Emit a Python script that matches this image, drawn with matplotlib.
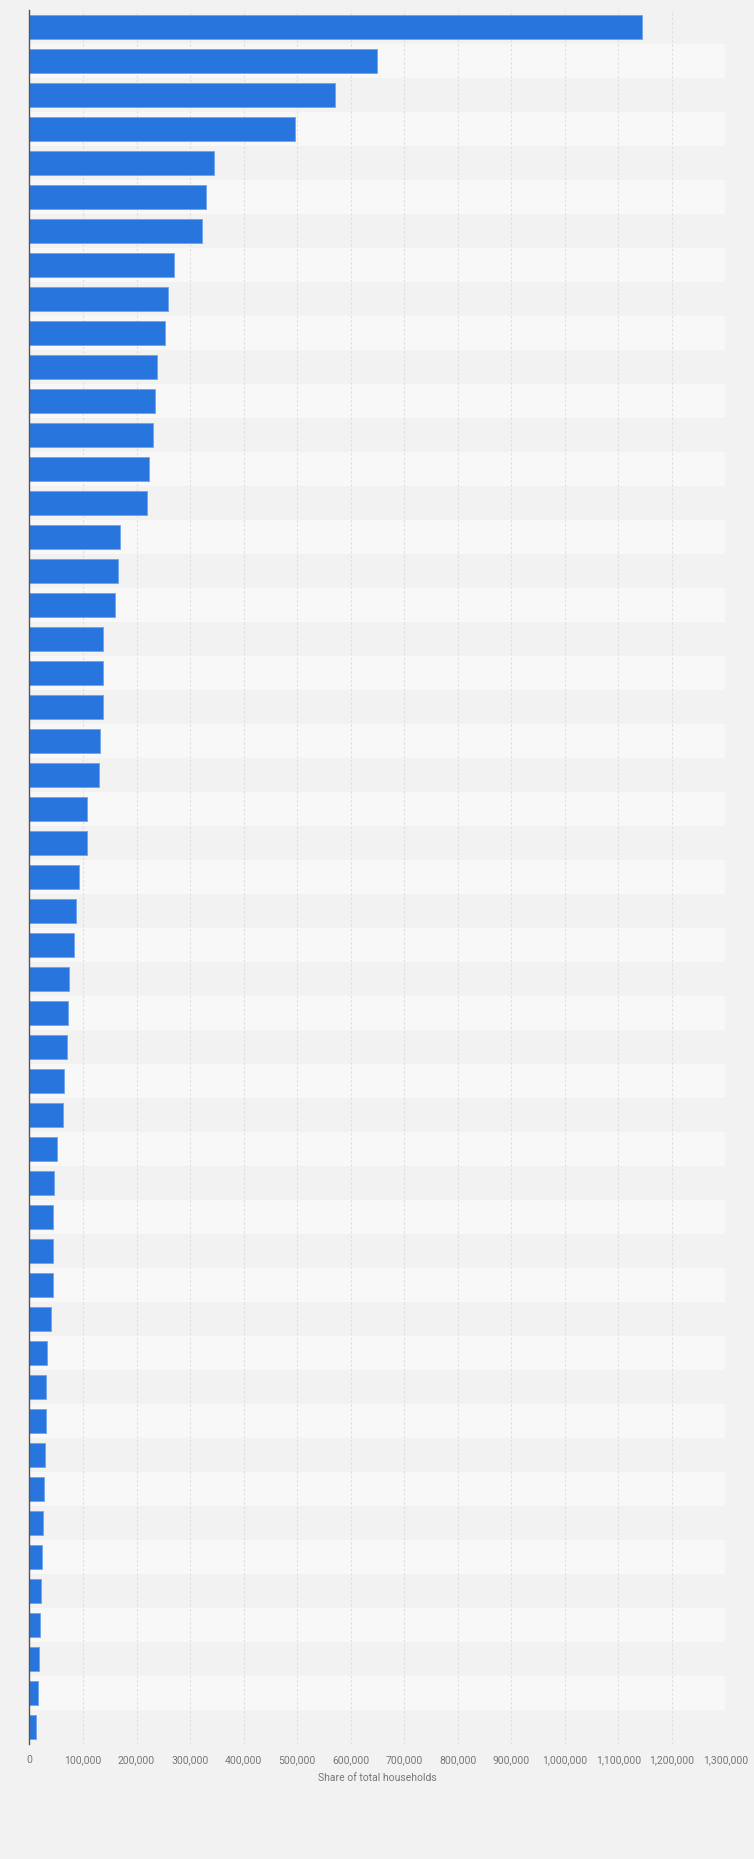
import matplotlib
matplotlib.use('Agg')
import matplotlib.pyplot as plt
import numpy as np

# household counts, top to bottom (no category labels shown)
values = [1144000, 649000, 570000, 495000, 345000, 329000, 322000, 270000, 259000, 254000,
          238000, 235000, 231000, 224000, 220000, 170000, 166000, 160000, 138000, 138000,
          138000, 132000, 130000, 108000, 108000, 92500, 87000, 83000, 74000, 72000,
          70000, 64500, 62600, 51400, 45800, 44000, 44000, 44000, 40000, 32700,
          30800, 30800, 29000, 27000, 24600, 23000, 21500, 19600, 17800, 15900,
          12100]
xticks = list(range(0, 1300001, 100000))
xlabel = 'Share of total households'

plt.rcParams['font.family'] = ['Liberation Sans Narrow', 'Roboto', 'DejaVu Sans']

fig = plt.figure(figsize=(7.54, 18.59), dpi=100, facecolor='#f2f2f2')
ax = fig.add_axes([0.0391, 0.0620, 0.9231, 0.9326])
ax.set_facecolor('#f2f2f2')

n = len(values)
ypos = np.arange(n)

# alternating row bands
for i in ypos:
    ax.axhspan(i - 0.5, i + 0.5, color='#f2f2f2' if i % 2 == 0 else '#f8f8f8', lw=0, zorder=0)

ax.barh(ypos, values, height=0.7, color='#2876dd', edgecolor='#6ea4ec', linewidth=0.6, zorder=3)

ax.set_xlim(0, 1300000)
ax.set_ylim(n - 0.5, -0.5)
ax.set_xticks(xticks)
ax.set_xticklabels([f'{t:,}' for t in xticks], fontsize=7.5, color='#777777')
ax.set_yticks([])
ax.tick_params(axis='x', length=0, pad=8)
ax.xaxis.grid(True, color='#dedede', linestyle=(0, (2, 2)), linewidth=0.8, zorder=1)
ax.set_axisbelow(True)

for s in ['top', 'right', 'bottom']:
    ax.spines[s].set_visible(False)
ax.spines['left'].set_color('#555555')
ax.spines['left'].set_linewidth(1.0)
ax.spines['left'].set_zorder(4)

ax.set_xlabel(xlabel, fontsize=7.5, color='#777777', labelpad=6)

fig.savefig('out.png', dpi=100, facecolor=fig.get_facecolor())
